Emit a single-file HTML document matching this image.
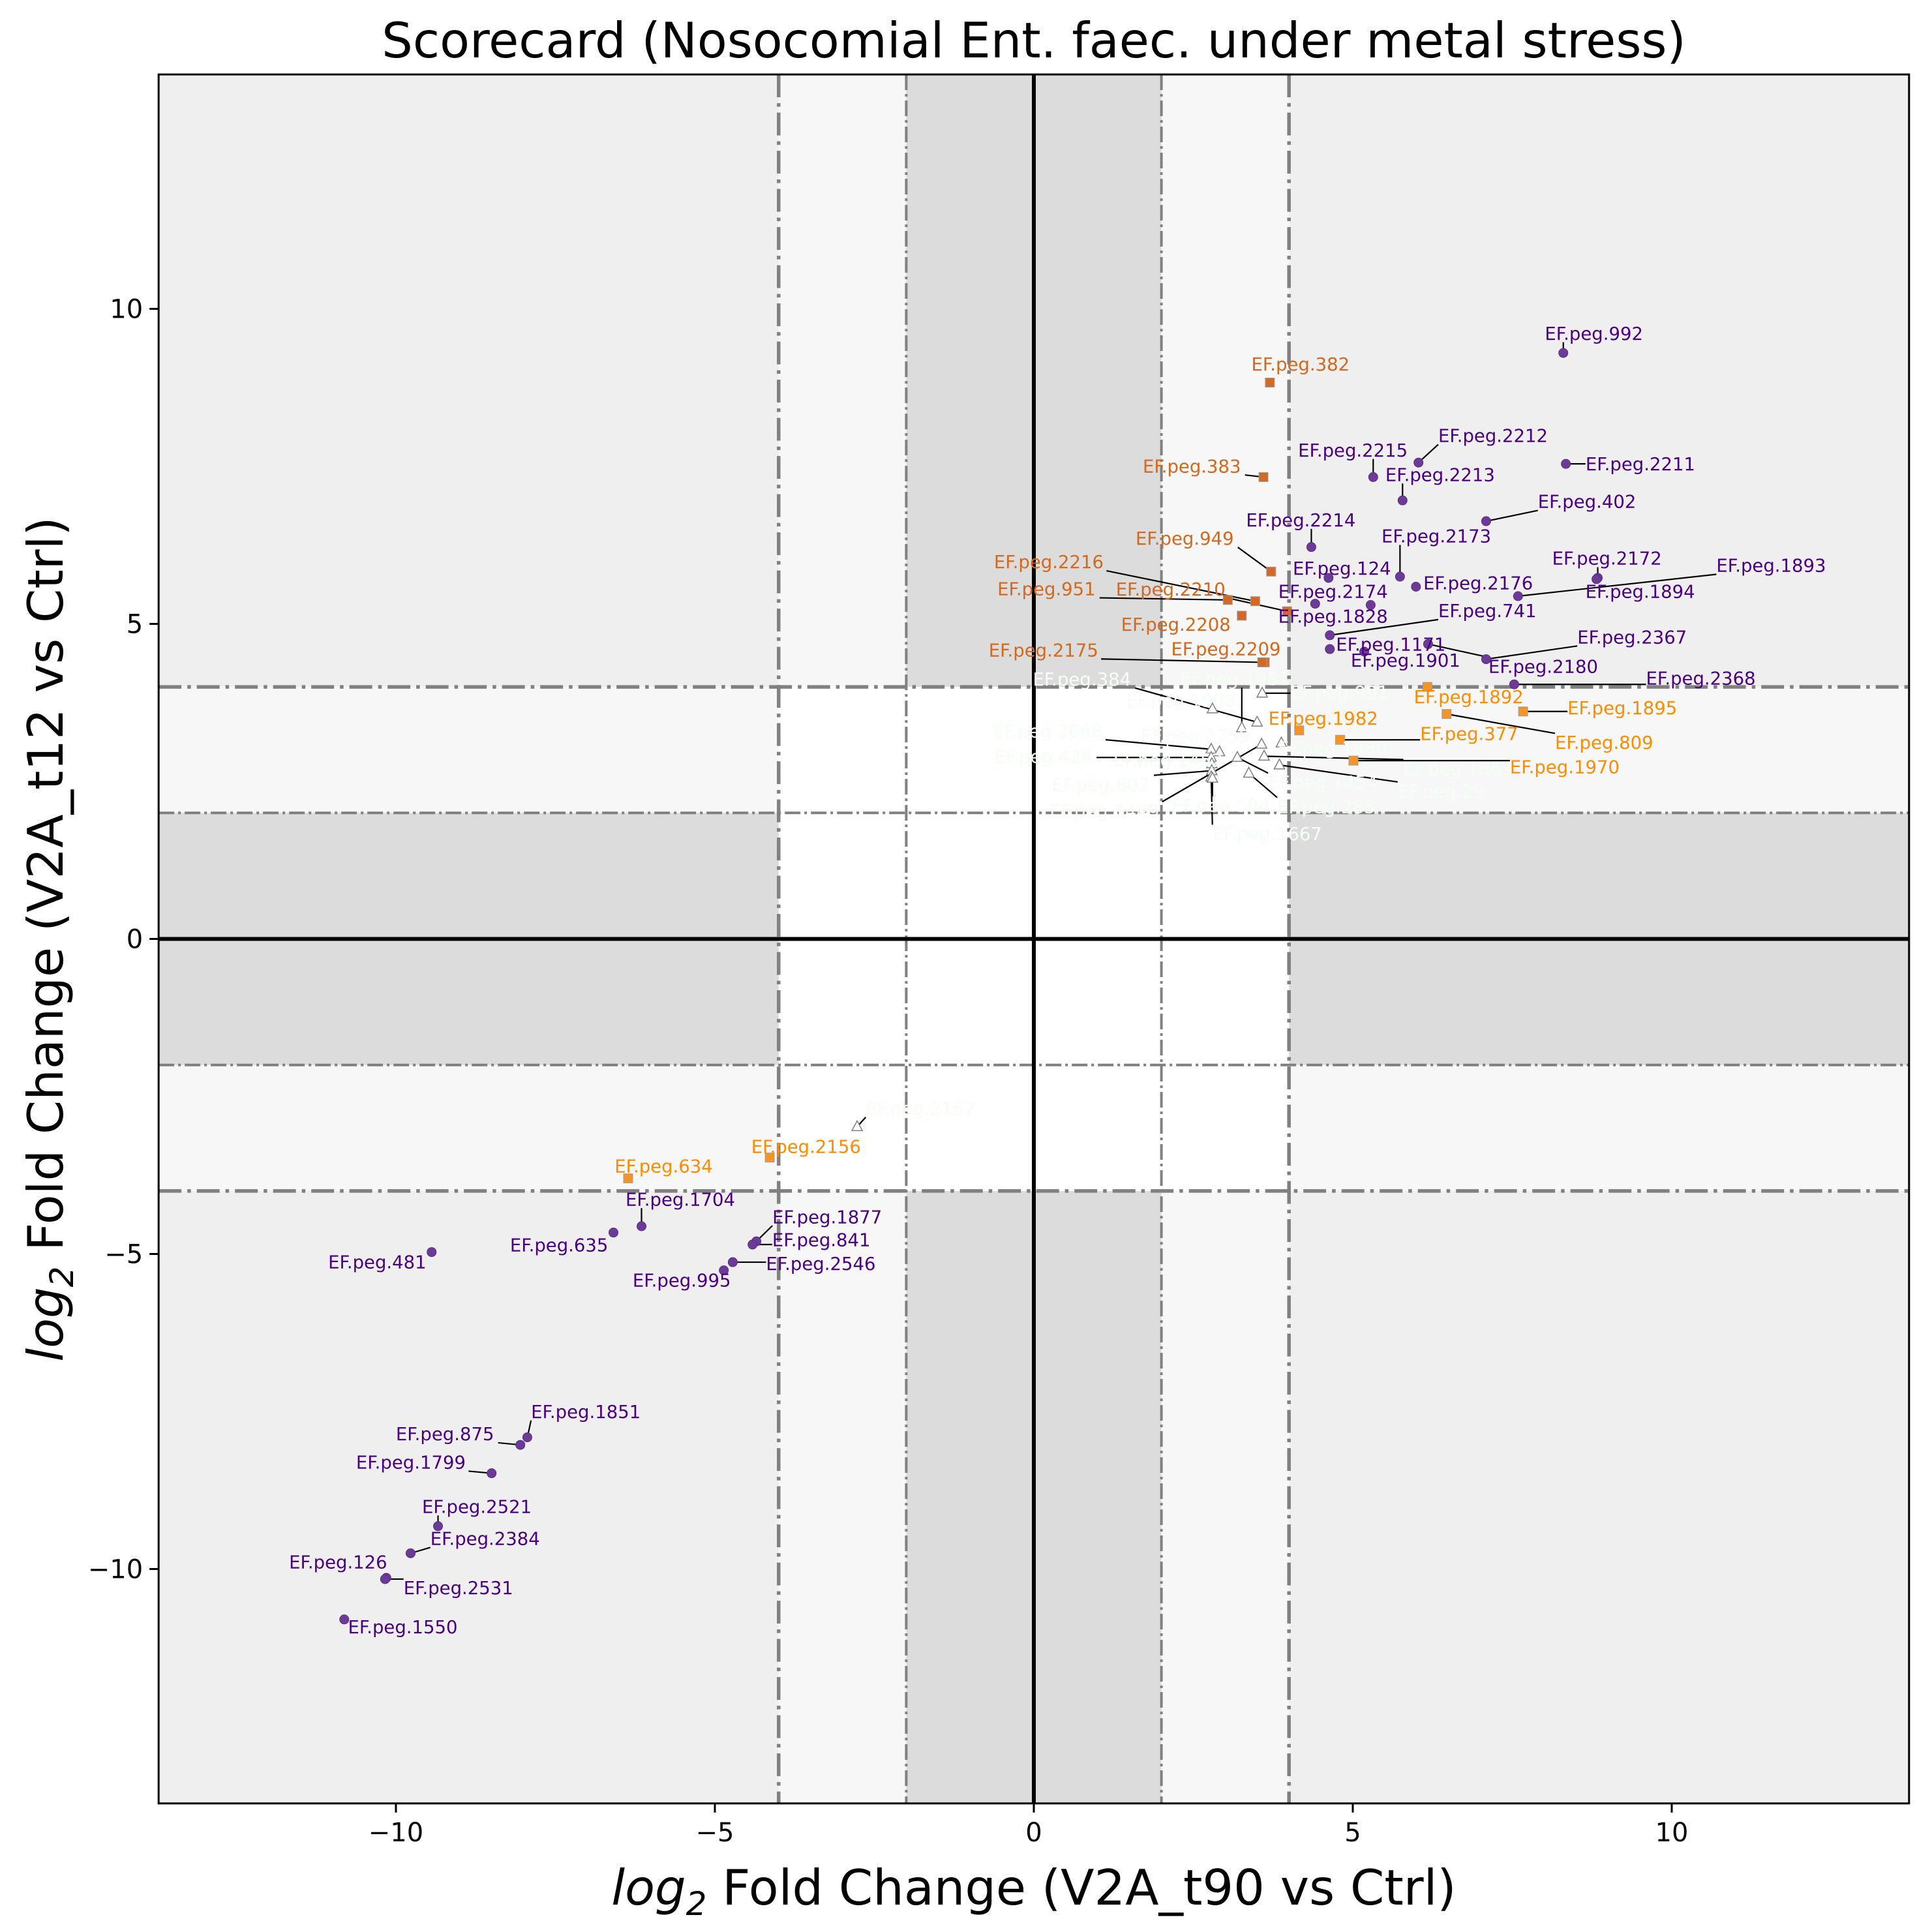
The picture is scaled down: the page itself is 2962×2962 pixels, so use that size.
<!DOCTYPE html>
<html><head><meta charset="utf-8"><style>
html,body{margin:0;padding:0;background:#fff}
svg{display:block;font-family:"DejaVu Sans","Liberation Sans",sans-serif}
</style></head><body>
<svg id="chart" xmlns="http://www.w3.org/2000/svg" width="2962" height="2962" viewBox="0 0 2962 2962">
<rect x="0" y="0" width="2962" height="2962" fill="#fff"/>
<g id="bg"></g>
<g id="guides"></g>
<g id="leaders"></g>
<g id="marks"></g>
<g id="labels"></g>
<g id="axes"></g>
<text x="1585" y="88" font-size="75" text-anchor="middle">Scorecard (Nosocomial Ent. faec. under metal stress)</text>
<text x="1585" y="2920" font-size="75" text-anchor="middle"><tspan font-style="italic">log</tspan><tspan font-style="italic" font-size="50" dy="16">2</tspan><tspan dy="-16"> Fold Change (V2A_t90 vs Ctrl)</tspan></text>
<text transform="translate(96,1440) rotate(-90)" font-size="75" text-anchor="middle"><tspan font-style="italic">log</tspan><tspan font-style="italic" font-size="50" dy="16">2</tspan><tspan dy="-16"> Fold Change (V2A_t12 vs Ctrl)</tspan></text>
</svg>
<script>
// ---- data ----
const purpleNames = ["EF.peg.992","EF.peg.2212","EF.peg.2211","EF.peg.2215","EF.peg.2213","EF.peg.402","EF.peg.2214","EF.peg.2173","EF.peg.124","EF.peg.2172","EF.peg.1894","EF.peg.1893","EF.peg.2176","EF.peg.2174","EF.peg.1828","EF.peg.741","EF.peg.2180","EF.peg.1171","EF.peg.1901","EF.peg.2367","EF.peg.2368","EF.peg.481","EF.peg.635","EF.peg.1704","EF.peg.1877","EF.peg.841","EF.peg.2546","EF.peg.995","EF.peg.1851","EF.peg.875","EF.peg.1799","EF.peg.2521","EF.peg.2384","EF.peg.126","EF.peg.2531","EF.peg.1550"];
const purpleX = [8.30,6.03,8.34,5.32,5.78,7.09,4.35,5.74,4.62,8.84,8.82,7.59,5.99,5.28,4.41,4.64,6.18,4.64,5.18,7.09,7.53,-9.44,-6.59,-6.15,-4.35,-4.41,-4.72,-4.86,-7.94,-8.05,-8.50,-9.34,-9.77,-10.15,-10.17,-10.81];
const purpleY = [9.30,7.56,7.54,7.33,6.96,6.63,6.22,5.75,5.73,5.73,5.71,5.44,5.59,5.30,5.32,4.82,4.68,4.60,4.56,4.44,4.04,-4.97,-4.66,-4.56,-4.80,-4.85,-5.13,-5.26,-7.91,-8.03,-8.48,-9.32,-9.75,-10.14,-10.16,-10.80];
const chocNames = ["EF.peg.382","EF.peg.383","EF.peg.949","EF.peg.2216","EF.peg.951","EF.peg.2210","EF.peg.2208","EF.peg.2209","EF.peg.2175"];
const chocX = [3.70,3.60,3.72,3.47,3.04,3.97,3.26,3.62,3.58];
const chocY = [8.83,7.33,5.83,5.36,5.38,5.20,5.13,4.39,4.39];
const orangeNames = ["EF.peg.634","EF.peg.2156","EF.peg.1892","EF.peg.1895","EF.peg.809","EF.peg.377","EF.peg.1982","EF.peg.1970"];
const orangeX = [-6.36,-4.14,6.17,7.67,6.47,4.80,4.16,5.01];
const orangeY = [-3.80,-3.47,4.00,3.61,3.57,3.16,3.31,2.83];
const whiteNames = ["EF.peg.991","EF.peg.1908","EF.peg.384","EF.peg.1981","EF.peg.2668","EF.peg.2759","EF.peg.1449","EF.peg.1880","EF.peg.424","EF.peg.1454","EF.peg.1863","EF.peg.1452","EF.peg.29","EF.peg.802","EF.peg.285","EF.peg.1667","EF.peg.594","EF.peg.2157"];
const whiteX = [3.58,2.80,3.50,3.26,2.78,2.91,3.57,3.88,2.78,3.19,3.61,2.79,3.85,2.79,3.37,2.78,2.80,-2.77];
const whiteY = [3.90,3.65,3.44,3.35,3.01,2.97,3.09,3.11,2.88,2.88,2.90,2.78,2.76,2.67,2.63,2.57,2.55,-2.98];
const xTicks = [-10,-5,0,5,10];
const yTicks = [-10,-5,0,5,10];
const xTickLabels = ["\u221210","\u22125","0","5","10"];
const yTickLabels = ["\u221210","\u22125","0","5","10"];
// ---- layout (label offsets in preview px, not data) ----
const purpleOff = [[-15,-16],[16,-22],[16,0],[-61,-22],[-14,-21],[42,-16],[-53,-22],[-15,-33],[-29,-8],[-37,-16],[-9,10],[161,-25],[6,-3],[-75,-11],[-30,10],[88,-20],[49,18],[5,-4],[-11,7],[74,-18],[107,-5],[-84,8],[-84,10],[-13,-22],[13,-20],[16,-4],[27,1],[-74,8],[3,-21],[-101,-9],[-110,-9],[-13,-16],[16,-12],[-79,-13],[15,7],[3,6]];
const chocOff = [[-15,-15],[-98,-9],[-110,-27],[-212,-32],[-187,-9],[-139,-18],[-98,7],[-76,-11],[-222,-10]];
const orangeOff = [[-11,-10],[-15,-9],[-11,8],[36,-3],[88,23],[65,-5],[-25,-10],[127,5]];
const whiteOff = [[23,-1],[-70,-7],[-182,-35],[-50,-40],[-177,-15],[-64,-13],[-172,54],[-3,4],[-176,-1],[25,20],[113,10],[-80,-3],[96,21],[-130,11],[23,27],[1,46],[-33,22],[7,-15]];

const NS="http://www.w3.org/2000/svg";
const X0=1585, KX=97.8, Y0=1439.5, KY=96.6, LIM=13.72;
function sx(v){return X0+v*KX;}
function sy(v){return Y0-v*KY;}
function mk(tag,attrs,parent){const e=document.createElementNS(NS,tag);for(const k in attrs)e.setAttribute(k,attrs[k]);parent.appendChild(e);return e;}
const bg=document.getElementById('bg'), guides=document.getElementById('guides'), leaders=document.getElementById('leaders'), marks=document.getElementById('marks'), labels=document.getElementById('labels'), axes=document.getElementById('axes');

function band(x1,x2,y1,y2,fill,name){
  const r=mk('rect',{x:sx(x1),y:sy(y2),width:sx(x2)-sx(x1),height:sy(y1)-sy(y2),fill:fill},bg);
  
  
}
band(-LIM,LIM,-LIM,LIM,'#efefef','outer-region');
band(-LIM,LIM,2,4,'#f7f7f7','band-y-pos');
band(-LIM,LIM,-4,-2,'#f7f7f7','band-y-neg');
band(2,4,-LIM,LIM,'#f7f7f7','band-x-pos');
band(-4,-2,-LIM,LIM,'#f7f7f7','band-x-neg');
band(-LIM,LIM,-2,2,'#dcdcdc','band-y-center');
band(-2,2,-LIM,LIM,'#dcdcdc','band-x-center');
band(-4,4,-4,4,'#ffffff','center-region');

function vline(v,w,dash,color,name){
  const l=mk('line',{x1:sx(v),x2:sx(v),y1:sy(LIM),y2:sy(-LIM),stroke:color,'stroke-width':w,'stroke-dasharray':dash},guides);
  
  
}
function hline(v,w,dash,color,name){
  const l=mk('line',{x1:sx(-LIM),x2:sx(LIM),y1:sy(v),y2:sy(v),stroke:color,'stroke-width':w,'stroke-dasharray':dash},guides);
  
  
}
[-2,2].forEach(v=>{vline(v,4,'24 6 4 6','#808080','threshold-x-inner');hline(v,4,'24 6 4 6','#808080','threshold-y-inner');});
[-4,4].forEach(v=>{vline(v,5.5,'35 9 5.5 9','#808080','threshold-x-outer');hline(v,5.5,'35 9 5.5 9','#808080','threshold-y-outer');});
vline(0,6,'none','#000','zero-line-x');
hline(0,6,'none','#000','zero-line-y');

const FS=27.5, P=1.889;
function drawGroup(names,xs,ys,offs,kind,labelColor,group){
  for(let i=0;i<names.length;i++){
    const px=sx(xs[i]), py=sy(ys[i]);
    let m;
    if(kind==='circle'){
      m=mk('circle',{cx:px,cy:py,r:7,fill:'#6c3b98',stroke:'#5a2d85','stroke-width':1},marks);
    } else if(kind==='square'){
      m=mk('rect',{x:px-7,y:py-7,width:14,height:14,fill:labelColor==='#d2691e'?'#d06a28':'#f29427',stroke:'#a0a0a0','stroke-width':1},marks);
    } else {
      m=mk('polygon',{points:(px)+','+(py-9)+' '+(px-8)+','+(py+6)+' '+(px+8)+','+(py+6),fill:'#ffffff',stroke:'#808080','stroke-width':1.5},marks);
    }
    
    
    const lx=px+offs[i][0]*P, ly=py+offs[i][1]*P;
    const w=names[i].length*0.57*FS, h=FS;
    const cx=Math.max(lx,Math.min(px,lx+w)), cy=Math.max(ly-h/2,Math.min(py,ly+h/2));
    const d=Math.hypot(cx-px,cy-py);
    if(d>16){
      const ln=mk('line',{x1:px,y1:py,x2:cx,y2:cy,stroke:'#000','stroke-width':2.2},leaders);
      
      
    }
    const t=mk('text',{x:lx,y:ly+FS*0.36,'font-size':FS,fill:labelColor},labels);
    t.textContent=names[i];
    
    
  }
}
drawGroup(whiteNames,whiteX,whiteY,whiteOff,'tri','#f4fff4','white');
drawGroup(purpleNames,purpleX,purpleY,purpleOff,'circle','#4b0082','purple');
drawGroup(chocNames,chocX,chocY,chocOff,'square','#d2691e','chocolate');
drawGroup(orangeNames,orangeX,orangeY,orangeOff,'square','#ff8c00','orange');

// axes frame & ticks
const fr=mk('rect',{x:sx(-LIM),y:sy(LIM),width:sx(LIM)-sx(-LIM),height:sy(-LIM)-sy(LIM),fill:'none',stroke:'#000','stroke-width':3},axes);


xTicks.forEach((v,i)=>{
  const tk=mk('line',{x1:sx(v),x2:sx(v),y1:sy(-LIM),y2:sy(-LIM)+14,stroke:'#000','stroke-width':3},axes);
  
  
  const t=mk('text',{x:sx(v),y:sy(-LIM)+58,'font-size':40,'text-anchor':'middle'},axes);
  t.textContent=xTickLabels[i];
  
  
});
yTicks.forEach((v,i)=>{
  const tk=mk('line',{x1:sx(-LIM)-14,x2:sx(-LIM),y1:sy(v),y2:sy(v),stroke:'#000','stroke-width':3},axes);
  
  
  const t=mk('text',{x:sx(-LIM)-24,y:sy(v)+14,'font-size':40,'text-anchor':'end'},axes);
  t.textContent=yTickLabels[i];
  
  
});
</script>
</body></html>
